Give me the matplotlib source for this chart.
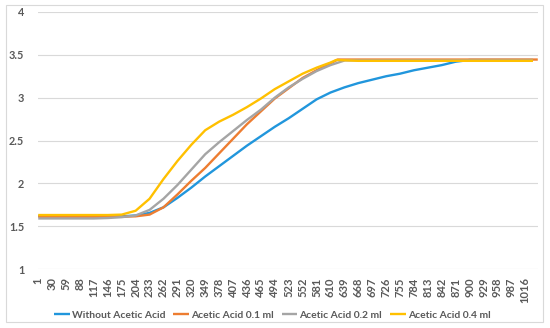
import matplotlib
matplotlib.use("Agg")
import matplotlib.pyplot as plt
from matplotlib.patches import Rectangle

# ---- data (values read at sampled categories) ----
cats = [1, 30, 59, 88, 117, 146, 175, 204, 233, 262, 291, 320, 349, 378, 407,
        436, 465, 494, 523, 552, 581, 610, 639, 668, 697, 726, 755, 784, 813,
        842, 871, 900, 929, 958, 987, 1016, 1032]

without_acid = [1.62, 1.62, 1.62, 1.62, 1.62, 1.62, 1.615, 1.625, 1.655, 1.72,
                1.83, 1.95, 2.08, 2.20, 2.32, 2.44, 2.55, 2.66, 2.76, 2.87,
                2.98, 3.06, 3.12, 3.17, 3.21, 3.25, 3.28, 3.32, 3.35, 3.38,
                3.42, 3.44, 3.44, 3.44, 3.44, 3.44, 3.44]

cats_01 = [1, 30, 59, 88, 117, 146, 175, 204, 233, 262, 291, 320, 349, 378, 407,
           436, 465, 494, 523, 552, 581, 610, 625, 668, 726, 784, 842, 900, 958,
           1016, 1042]
acid_01 = [1.61, 1.61, 1.61, 1.61, 1.61, 1.61, 1.61, 1.615, 1.635, 1.72, 1.87,
           2.03, 2.18, 2.35, 2.52, 2.69, 2.84, 2.99, 3.11, 3.23, 3.32, 3.40,
           3.445, 3.445, 3.445, 3.445, 3.445, 3.445, 3.445, 3.445, 3.445]

cats_02 = [1, 30, 59, 88, 117, 146, 175, 204, 233, 262, 291, 320, 349, 378, 407,
           436, 465, 494, 523, 552, 581, 610, 640, 668, 726, 784, 842, 900, 958,
           1016, 1032]
acid_02 = [1.59, 1.59, 1.59, 1.59, 1.59, 1.595, 1.605, 1.625, 1.69, 1.82, 1.98,
           2.16, 2.34, 2.48, 2.61, 2.74, 2.86, 3.00, 3.12, 3.22, 3.31, 3.38,
           3.435, 3.435, 3.435, 3.435, 3.435, 3.435, 3.435, 3.435, 3.435]

cats_04 = [1, 30, 59, 88, 117, 146, 175, 204, 233, 262, 291, 320, 349, 378, 407,
           436, 465, 494, 523, 552, 581, 610, 622, 668, 726, 784, 842, 900, 958,
           1016, 1032]
acid_04 = [1.63, 1.63, 1.63, 1.63, 1.63, 1.63, 1.635, 1.68, 1.82, 2.05, 2.26,
           2.45, 2.62, 2.72, 2.80, 2.89, 2.99, 3.10, 3.19, 3.28, 3.35, 3.41,
           3.44, 3.43, 3.43, 3.43, 3.43, 3.43, 3.43, 3.43, 3.43]

tick_cats = list(range(1, 1017, 29))
y_ticks = [1, 1.5, 2, 2.5, 3, 3.5, 4]
y_labels = ["1", "1.5", "2", "2.5", "3", "3.5", "4"]
names = ["Without Acetic Acid", "Acetic Acid 0.1 ml",
         "Acetic Acid 0.2 ml", "Acetic Acid 0.4 ml"]
colors = ["#2196DC", "#ED7D31", "#A5A5A5", "#FFC000"]

plt.rcParams['font.family'] = ['Lato', 'DejaVu Sans']

fig = plt.figure(figsize=(5.5, 3.28), dpi=100)
fig.patches.append(Rectangle((6 / 550, 1 - 322 / 328), 537 / 550, 317 / 328,
                             transform=fig.transFigure, fill=False,
                             edgecolor="#D9D9D9", linewidth=0.8))
ax = fig.add_axes([38 / 550, 1 - 269 / 328, 500 / 550, 257 / 328])

series = [(cats, without_acid), (cats_01, acid_01), (cats_02, acid_02), (cats_04, acid_04)]
for (xs, ys), name, c in zip(series, names, colors):
    ax.plot(xs, ys, color=c, lw=1.7, label=name, solid_capstyle='butt',
            solid_joinstyle='round')

ax.set_xlim(0.5, 1042.5)
ax.set_ylim(1, 4)
ax.set_yticks(y_ticks)
ax.set_yticklabels(y_labels)
ax.set_xticks(tick_cats)
ax.set_xticklabels([str(t) for t in tick_cats], rotation=90)
ax.tick_params(axis='both', length=0, colors="#595959")
ax.tick_params(axis='y', pad=10, labelsize=7.8)
ax.tick_params(axis='x', pad=6, labelsize=8)
for lab in ax.get_xticklabels() + ax.get_yticklabels():
    lab.set_fontweight('bold')
ax.grid(axis='y', color="#D9D9D9", lw=0.8)
ax.set_axisbelow(True)
for s in ax.spines.values():
    s.set_visible(False)

leg = fig.legend(loc='center', bbox_to_anchor=(0.495, 1 - 315 / 328), ncol=4,
                 frameon=False, fontsize=7.4, handlelength=1.5,
                 handletextpad=0.2, columnspacing=0.8, borderaxespad=0)
for t in leg.get_texts():
    t.set_color("#595959")
    t.set_fontweight('bold')

fig.savefig("out.png", dpi=100)
